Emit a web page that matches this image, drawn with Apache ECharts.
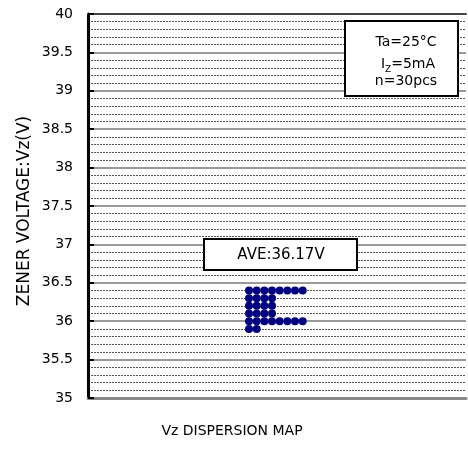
<!DOCTYPE html>
<html>
<head>
<meta charset="utf-8">
<script src="https://cdn.jsdelivr.net/npm/echarts@6/dist/echarts.min.js"></script>
<style>html,body{margin:0;padding:0;background:#fff}#c{width:468px;height:468px}</style>
</head>
<body>
<div id="c"></div>
<script>
// Voltage levels (V) and number of devices at each level
var levels = [36.4, 36.3, 36.2, 36.1, 36.0, 35.9];
var counts = [8, 4, 4, 4, 8, 2];
var yTickLabels = ['35', '35.5', '36', '36.5', '37', '37.5', '38', '38.5', '39', '39.5', '40'];
var aveText = 'AVE:36.17V';
var condLines = ['Ta=25°C', 'IZ=5mA', 'n=30pcs'];
var yTitle = 'ZENER VOLTAGE:Vz(V)';
var xTitle = 'Vz DISPERSION MAP';
var startCol = 21;

var points = [];
levels.forEach(function (v, i) {
  for (var k = 0; k < counts[i]; k++) points.push([startCol + k, v]);
});

var font = '"DejaVu Sans", sans-serif';
var chart = echarts.init(document.getElementById('c'), null, {renderer: 'canvas'});
chart.setOption({
  animation: false,
  backgroundColor: '#fff',
  grid: {left: 88, right: 2, top: 14, bottom: 70},
  xAxis: [{
    type: 'value', min: 0, max: 49.3, position: 'bottom',
    axisLine: {show: true, lineStyle: {color: '#888', width: 3}},
    axisTick: {show: false}, axisLabel: {show: false}, splitLine: {show: false}
  }, {
    type: 'value', min: 0, max: 49.3, position: 'top',
    axisLine: {show: true, lineStyle: {color: '#444', width: 2}},
    axisTick: {show: false}, axisLabel: {show: false}, splitLine: {show: false}
  }],
  yAxis: {
    type: 'value', min: 35, max: 40, interval: 0.5,
    axisLine: {show: true, lineStyle: {color: '#000', width: 3}},
    axisTick: {show: true, inside: true, length: 6, lineStyle: {color: '#000', width: 2}},
    axisLabel: {fontFamily: font, fontSize: 14, color: '#000', margin: 15,
      formatter: function (v) { var s = String(Math.round(v * 10) / 10); return yTickLabels.indexOf(s) >= 0 ? s : ''; }},
    splitLine: {show: true, lineStyle: {color: '#777', width: 1.5}},
    minorTick: {show: false, splitNumber: 5},
    minorSplitLine: {show: true, lineStyle: {color: '#555', width: 1, type: [2, 1]}}
  },
  series: [{
    type: 'scatter', xAxisIndex: 0, data: points, symbolSize: 8,
    itemStyle: {color: '#000080', opacity: 1}
  }],
  graphic: [
    {type: 'text', x: 25, y: 211, rotation: Math.PI / 2, z: 101,
     style: {text: yTitle, font: '17px ' + font, fill: '#000', textAlign: 'center', textVerticalAlign: 'middle'}},
    {type: 'rect', shape: {x: 345, y: 21, width: 113, height: 75},
     style: {fill: '#fff', stroke: '#000', lineWidth: 2}, z: 100},
    {type: 'text', x: 406, y: 42, z: 101,
     style: {text: condLines[0], font: '14px ' + font, fill: '#000', textAlign: 'center', textVerticalAlign: 'middle'}},
    {type: 'text', x: 408, y: 64, z: 101,
     style: {text: '{a|I}{s|Z}{a|=5mA}', textAlign: 'center', textVerticalAlign: 'middle',
       rich: {a: {font: '14px ' + font, fill: '#000', verticalAlign: 'bottom'},
              s: {font: '9px ' + font, fill: '#000', verticalAlign: 'bottom', padding: [0, 0, -3, 0]}}}},
    {type: 'text', x: 406, y: 81, z: 101,
     style: {text: condLines[2], font: '14px ' + font, fill: '#000', textAlign: 'center', textVerticalAlign: 'middle'}},
    {type: 'rect', shape: {x: 204, y: 239, width: 153, height: 31},
     style: {fill: '#fff', stroke: '#000', lineWidth: 2}, z: 100},
    {type: 'text', x: 281, y: 255, z: 101,
     style: {text: aveText, font: '15px ' + font, fill: '#000', textAlign: 'center', textVerticalAlign: 'middle'}},
    {type: 'text', x: 232, y: 431, z: 101,
     style: {text: xTitle, font: '14px ' + font, fill: '#000', textAlign: 'center', textVerticalAlign: 'middle'}}
  ]
});
</script>
</body>
</html>
